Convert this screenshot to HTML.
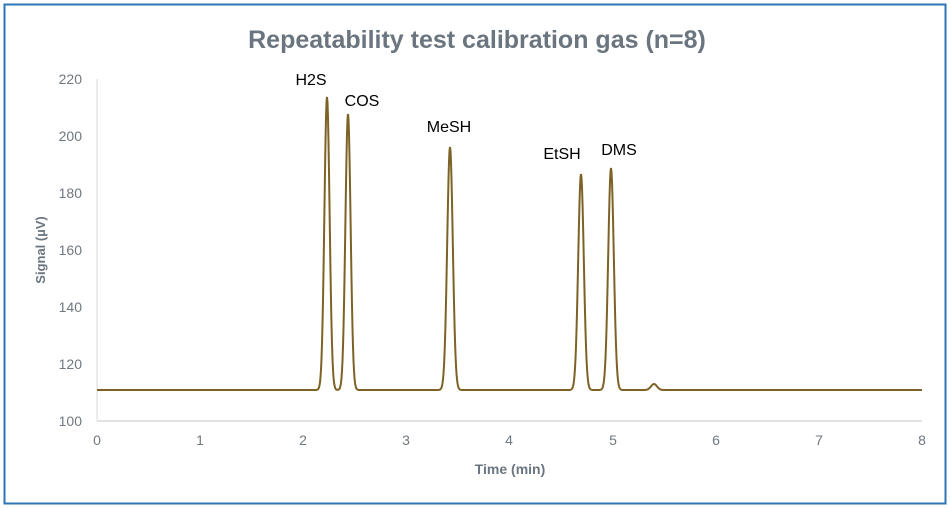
<!DOCTYPE html>
<html><head><meta charset="utf-8"><style>
body{margin:0;background:#fff}
svg{display:block;font-family:"Liberation Sans",sans-serif}
</style></head><body>
<svg id="s" width="950" height="508" viewBox="0 0 950 508">
<rect x="4.5" y="4.5" width="941" height="499" fill="#fff" stroke="#2e75b6" stroke-width="2"/>
<text x="477" y="48" text-anchor="middle" font-size="25" font-weight="bold" fill="#6b7580">Repeatability test calibration gas (n=8)</text>
<line x1="97" y1="79" x2="97" y2="421" stroke="#d9d9d9"/>
<line x1="97" y1="421" x2="922" y2="421" stroke="#d9d9d9" stroke-width="1.5"/>
<g font-size="14" fill="#707880" text-anchor="end">
<text x="82" y="84">220</text><text x="82" y="141">200</text><text x="82" y="198">180</text>
<text x="82" y="255">160</text><text x="82" y="312">140</text><text x="82" y="369">120</text><text x="82" y="426">100</text>
</g>
<g font-size="14" fill="#707880" text-anchor="middle">
<text x="97" y="445">0</text><text x="200" y="445">1</text><text x="303" y="445">2</text><text x="406" y="445">3</text>
<text x="509" y="445">4</text><text x="613" y="445">5</text><text x="716" y="445">6</text><text x="819" y="445">7</text><text x="922" y="445">8</text>
</g>
<text x="510" y="474" text-anchor="middle" font-size="14" font-weight="bold" fill="#6b7580">Time (min)</text>
<text transform="translate(45,250) rotate(-90)" text-anchor="middle" font-size="13" font-weight="bold" fill="#6b7580">Signal (µV)</text>
<g font-size="16" fill="#000" text-anchor="middle">
<text x="311" y="85">H2S</text><text x="362" y="106">COS</text><text x="449" y="132">MeSH</text>
<text x="562" y="159">EtSH</text><text x="619" y="155">DMS</text>
</g>
<path id="p" fill="none" stroke="#7d6226" stroke-width="2"/>
</svg>
<script>
var pk=[[327,293,2.6],[348,276,2.6],[450,243,2.8],[581,216,2.8],[611,222,2.8],[654,6,3]];
var d="";
for(var x=97;x<=922;x+=0.5){var y=390;for(var i=0;i<pk.length;i++){var t=(x-pk[i][0])/pk[i][2];y-=pk[i][1]*Math.exp(-t*t/2);}
d+=(x==97?"M":"L")+x+" "+y.toFixed(2);}
document.getElementById("p").setAttribute("d",d);
</script>
</body></html>
